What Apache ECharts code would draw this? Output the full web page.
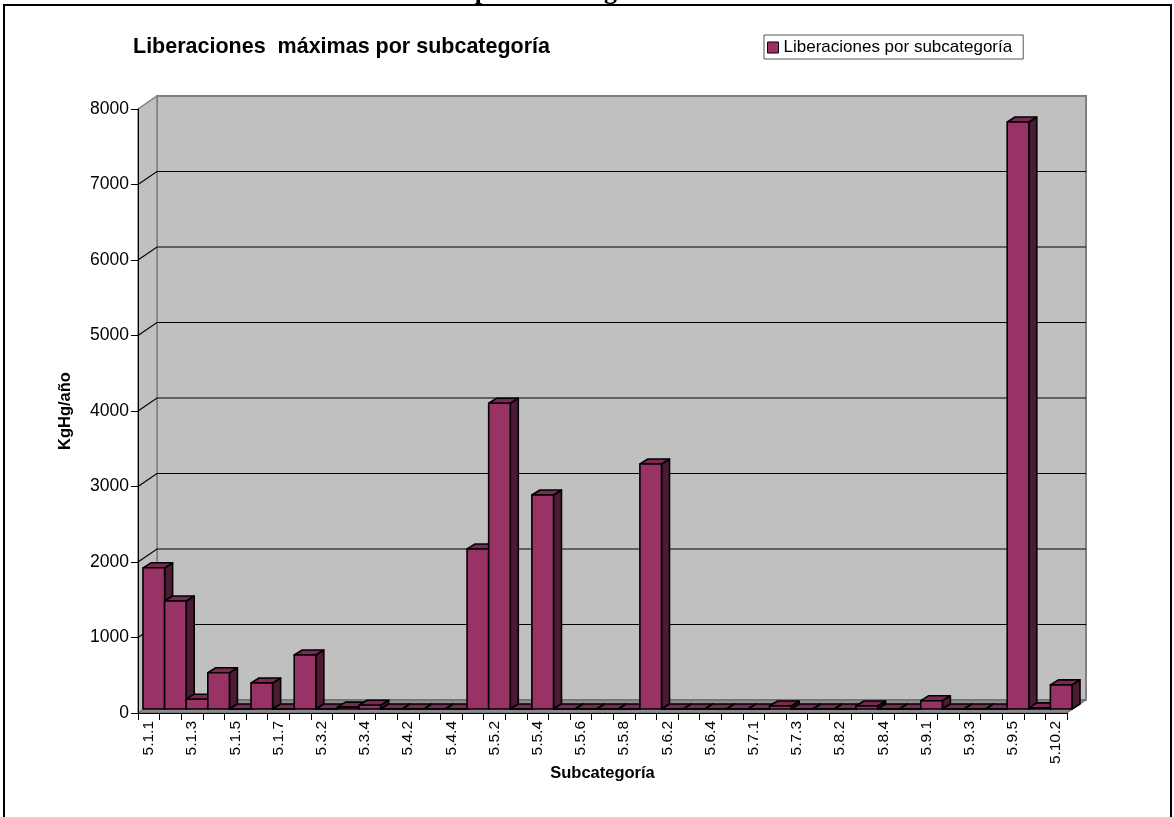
<!DOCTYPE html>
<html>
<head>
<meta charset="utf-8">
<script src="https://cdn.jsdelivr.net/npm/echarts@6/dist/echarts.min.js"></script>
<style>
html,body{margin:0;padding:0;background:#fff;}
#chart{width:1174px;height:817px;}
</style>
</head>
<body>
<div id="chart"></div>
<script>
// ---- data ----
const categories = [
  '5.1.1','5.1.2','5.1.3','5.1.4','5.1.5','5.1.6','5.1.7','5.3.1','5.3.2','5.3.3',
  '5.3.4','5.4.1','5.4.2','5.4.3','5.4.4','5.5.1','5.5.2','5.5.3','5.5.4','5.5.5',
  '5.5.6','5.5.7','5.5.8','5.6.1','5.6.2','5.6.3','5.6.4','5.6.5','5.7.1','5.7.2',
  '5.7.3','5.8.1','5.8.2','5.8.3','5.8.4','5.8.5','5.9.1','5.9.2','5.9.3','5.9.4',
  '5.9.5','5.10.1','5.10.2'
];
const releases = [
  1870, 1430, 130, 480, 0, 345, 0, 715, 0, 25,
  50, 0, 0, 0, 0, 2120, 4050, 0, 2835, 0,
  0, 0, 0, 3245, 0, 0, 0, 0, 0, 40,
  0, 0, 0, 40, 0, 0, 110, 0, 0, 0,
  7775, 15, 320
];
const yTicks = [0, 1000, 2000, 3000, 4000, 5000, 6000, 7000, 8000];
const seriesName = 'Liberaciones por subcategoría';

// ---- styling constants ----
const FONT = "'Liberation Sans', Arial, sans-serif";
const WALL_DX = 19, WALL_DY = -13;      // depth of the 3D box
const BAR_FX = 5, BAR_FY = -4;          // front face offset of bars
const BAR_DX = 8, BAR_DY = -5;          // depth of bars
const C_FRONT = '#993366', C_TOP = '#7a2952', C_SIDE = '#4d1a33';
const C_WALL = '#c0c0c0', C_WALL_EDGE = '#808080', C_FLOOR = '#8c8c8c';

const N = categories.length;
const YMAX = yTicks[yTicks.length - 1];

function frame(api) {
  const w = api.size([1, 0])[0];
  const left = api.coord([0, 0])[0] - w / 2;
  const right = api.coord([N - 1, 0])[0] + w / 2;
  const y0 = api.coord([0, 0])[1];
  const yTop = api.coord([0, YMAX])[1];
  return { w, left, right, y0, yTop };
}

const chart = echarts.init(document.getElementById('chart'), null, { renderer: 'canvas' });

const option = {
  backgroundColor: '#ffffff',
  animation: false,
  textStyle: { fontFamily: FONT },
  graphic: [
    { type: 'rect', z: 100, shape: { x: 4, y: 5, width: 1167, height: 900 },
      style: { fill: 'none', stroke: '#000', lineWidth: 2 } },
    { type: 'text', z: 99, x: 219, y: 5,
      style: { text: 'Liberaciones máximas por subcategoría', font: "bold 26px 'Liberation Serif', 'Times New Roman', serif",
               fill: '#000', verticalAlign: 'bottom', align: 'left' } },
    { type: 'text', z: 99, x: 133, y: 47,
      style: { text: 'Liberaciones  máximas por subcategoría', font: 'bold 21.5px ' + FONT,
               fill: '#000', verticalAlign: 'middle', align: 'left' } }
  ],
  legend: {
    data: [{ name: seriesName, icon: 'rect',
             itemStyle: { color: C_FRONT, borderColor: '#000', borderWidth: 1 } }],
    left: 764, top: 35,
    itemWidth: 11, itemHeight: 11,
    padding: [4, 11, 3, 3],
    backgroundColor: '#fff',
    borderColor: '#555', borderWidth: 1,
    textStyle: { fontSize: 17, color: '#000', fontFamily: FONT },
    selectedMode: false
  },
  grid: { left: 138, top: 109, width: 929, height: 604, containLabel: false },
  xAxis: {
    type: 'category',
    data: categories,
    boundaryGap: true,
    z: 10,
    name: 'Subcategoría',
    nameLocation: 'middle',
    nameGap: 52,
    nameMoveOverlap: false,
    nameTextStyle: { fontSize: 16.5, fontWeight: 'bold', color: '#000', fontFamily: FONT },
    axisLine: { show: true, lineStyle: { color: '#000', width: 1 } },
    axisTick: { show: true, interval: 0, length: 7, lineStyle: { color: '#000' } },
    axisLabel: { interval: 1, rotate: 90, fontSize: 15.5, color: '#000', margin: 8, fontFamily: FONT },
    splitLine: { show: false }
  },
  yAxis: {
    type: 'value',
    min: 0, max: YMAX, interval: 1000,
    z: 10,
    name: 'KgHg/año',
    nameLocation: 'middle',
    nameGap: 64,
    nameMoveOverlap: false,
    nameTextStyle: { fontSize: 16.5, fontWeight: 'bold', color: '#000', fontFamily: FONT },
    axisLine: { show: true, lineStyle: { color: '#000', width: 1 } },
    axisTick: { show: true, length: 7, lineStyle: { color: '#000' } },
    axisLabel: { fontSize: 17.5, color: '#000', margin: 9, fontFamily: FONT,
                 formatter: function (v) { return String(v); } },
    splitLine: { show: false }
  },
  series: [
    {
      type: 'custom', name: 'walls', z: 1, silent: true,
      data: [[0, 0]],
      renderItem: function (params, api) {
        const f = frame(api);
        return { type: 'group', children: [
          { type: 'polygon', shape: { points: [[f.left + WALL_DX, f.yTop + WALL_DY], [f.right + WALL_DX, f.yTop + WALL_DY],
                                              [f.right + WALL_DX, f.y0 + WALL_DY], [f.left + WALL_DX, f.y0 + WALL_DY]] },
            style: { fill: C_WALL, stroke: C_WALL_EDGE, lineWidth: 2 } },
          { type: 'polygon', shape: { points: [[f.left, f.yTop], [f.left + WALL_DX, f.yTop + WALL_DY],
                                              [f.left + WALL_DX, f.y0 + WALL_DY], [f.left, f.y0]] },
            style: { fill: C_WALL, stroke: C_WALL_EDGE, lineWidth: 1.5 } },
          { type: 'polygon', shape: { points: [[f.left, f.y0], [f.left + WALL_DX, f.y0 + WALL_DY],
                                              [f.right + WALL_DX, f.y0 + WALL_DY], [f.right, f.y0]] },
            style: { fill: C_FLOOR, stroke: '#666', lineWidth: 1 } }
        ] };
      }
    },
    {
      type: 'custom', name: 'gridlines', z: 2, silent: true,
      data: yTicks.slice(1, -1).map(function (t) { return [0, t]; }),
      renderItem: function (params, api) {
        const f = frame(api);
        const y = api.coord([0, api.value(1)])[1];
        return { type: 'polyline',
          shape: { points: [[f.left, y], [f.left + WALL_DX, y + WALL_DY], [f.right + WALL_DX, y + WALL_DY]] },
          style: { stroke: '#000', lineWidth: 1.2, fill: null } };
      }
    },
    {
      type: 'custom', name: seriesName, z: 3,
      itemStyle: { color: C_FRONT },
      encode: { x: 0, y: 1 },
      data: releases.map(function (v, i) { return [i, v]; }),
      renderItem: function (params, api) {
        const i = api.value(0), v = api.value(1);
        const w = api.size([1, 0])[0];
        const base = api.coord([i, 0]);
        const top = api.coord([i, v]);
        const x0 = base[0] - w / 2 + BAR_FX, x1 = x0 + w;
        const yb = base[1] + BAR_FY, yt = top[1] + BAR_FY;
        const st = { stroke: '#000', lineWidth: 1.6, lineJoin: 'round' };
        return { type: 'group', children: [
          { type: 'polygon', shape: { points: [[x1, yb], [x1 + BAR_DX, yb + BAR_DY], [x1 + BAR_DX, yt + BAR_DY], [x1, yt]] },
            style: Object.assign({ fill: C_SIDE }, st) },
          { type: 'polygon', shape: { points: [[x0, yt], [x0 + BAR_DX, yt + BAR_DY], [x1 + BAR_DX, yt + BAR_DY], [x1, yt]] },
            style: Object.assign({ fill: C_TOP }, st) },
          { type: 'rect', shape: { x: x0, y: yt, width: w, height: yb - yt },
            style: Object.assign({ fill: C_FRONT }, st) }
        ] };
      }
    }
  ]
};

chart.setOption(option);
</script>
</body>
</html>
